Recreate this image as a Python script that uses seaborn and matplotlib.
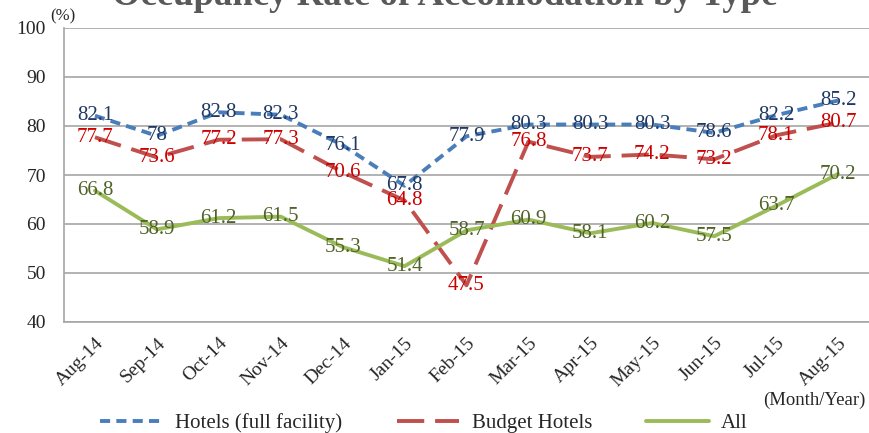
import matplotlib
matplotlib.use("Agg")
import matplotlib.pyplot as plt
import seaborn as sns
from matplotlib.lines import Line2D

months = ["Aug-14", "Sep-14", "Oct-14", "Nov-14", "Dec-14", "Jan-15", "Feb-15",
          "Mar-15", "Apr-15", "May-15", "Jun-15", "Jul-15", "Aug-15"]
hotels = [82.1, 78, 82.8, 82.3, 76.1, 67.8, 77.9, 80.3, 80.3, 80.3, 78.6, 82.2, 85.2]
budget = [77.7, 73.6, 77.2, 77.3, 70.6, 64.8, 47.5, 76.8, 73.7, 74.2, 73.2, 78.1, 80.7]
all_acc = [66.8, 58.9, 61.2, 61.5, 55.3, 51.4, 58.7, 60.9, 58.1, 60.2, 57.5, 63.7, 70.2]

series = [
    ("Hotels (full facility)", hotels, "#4a7ebb", "#1f3864", (0, (2.6, 1.6))),
    ("Budget Hotels", budget, "#c0504d", "#cc0000", (0, (7, 2.8))),
    ("All", all_acc, "#9bbb59", "#4f6228", "-"),
]

sns.set_style("white")
plt.rcParams["font.family"] = ["Liberation Serif", "DejaVu Serif"]

fig = plt.figure(figsize=(8.69, 4.33), dpi=100)
ax = fig.add_axes([64 / 869, 1 - 322 / 433, 805 / 869, 294 / 433])

x = list(range(len(months)))
for name, vals, lc, tc, ls in series:
    sns.lineplot(x=x, y=vals, ax=ax, color=lc, linewidth=2.8, linestyle=ls,
                 sort=False, legend=False)
    ax.lines[-1].set_dash_capstyle("butt")
    for i, v in enumerate(vals):
        ax.text(i, v, f"{v:g}", color=tc, fontsize=15, ha="center", va="center")

ax.set_xlim(-0.5, len(months) - 0.5)
ax.set_ylim(40, 100)
ax.set_yticks(range(40, 101, 10))
ax.set_xticks(x)
ax.set_xticklabels(months, rotation=45, ha="right", rotation_mode="anchor")
ax.tick_params(axis="y", labelsize=14, length=0, pad=13)
ax.tick_params(axis="x", labelsize=14, length=0, pad=9)
ax.yaxis.grid(True, color="#a6a6a6", linewidth=1.2)
ax.set_axisbelow(True)
for s in ["top", "right"]:
    ax.spines[s].set_visible(False)
for s in ["left", "bottom"]:
    ax.spines[s].set_color("#a6a6a6")
    ax.spines[s].set_linewidth(1.2)
ax.set_xlabel("")
ax.set_ylabel("")

fig.text(445 / 869, 1 - 5 / 433, "Occupancy Rate of Accomodation by Type",
         ha="center", va="baseline", fontsize=26.5, fontweight="bold", color="#595959")
fig.text(50 / 869, 1 - 20 / 433, "(%)", fontsize=12, ha="left", va="baseline")
fig.text(866 / 869, 1 - 405 / 433, "(Month/Year)", fontsize=13.5, ha="right", va="baseline")

handles = [Line2D([], [], color=lc, linewidth=2.8, linestyle=ls) for _, _, lc, _, ls in series]
fig.legend(handles, [s[0] for s in series], loc="center", bbox_to_anchor=(424 / 869, 1 - 423 / 433),
           ncol=3, frameon=False, fontsize=15, handlelength=3.0, columnspacing=2.6,
           handletextpad=0.6)

fig.savefig("out.png", dpi=100)
